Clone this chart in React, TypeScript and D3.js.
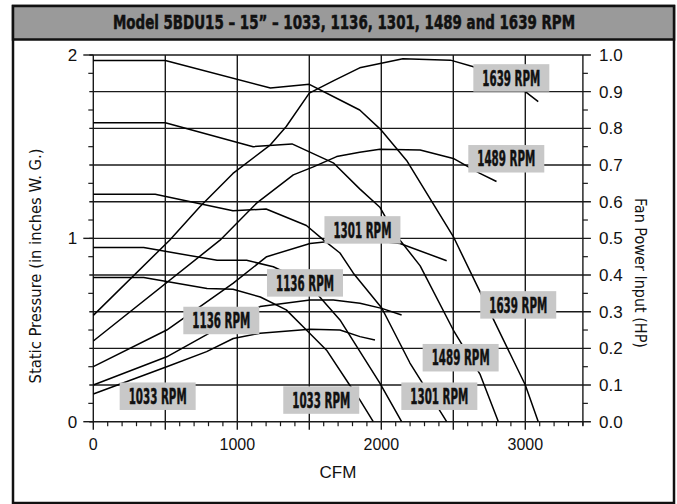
import React from 'react';
import * as d3 from 'd3';

// ---------- data ----------
const pressure1639Cfm = [0, 500, 1230, 1500, 1700, 1850, 2000, 2180, 2500, 2660, 3000, 3090];
const pressure1639 = [1.97, 1.97, 1.82, 1.84, 1.76, 1.70, 1.59, 1.42, 1.01, 0.75, 0.20, 0];

const pressure1489Cfm = [0, 500, 1110, 1380, 1670, 1850, 1990, 2090, 2270, 2500, 2685, 2813];
const pressure1489 = [1.63, 1.63, 1.50, 1.515, 1.41, 1.27, 1.17, 1.03, 0.85, 0.50, 0.26, 0];

const pressure1301Cfm = [0, 430, 970, 1200, 1480, 1600, 1713, 1806, 2003, 2199, 2454];
const pressure1301 = [1.24, 1.24, 1.15, 1.16, 1.07, 0.99, 0.92, 0.81, 0.62, 0.32, 0];

const pressure1136Cfm = [0, 350, 860, 1065, 1250, 1400, 1550, 1713, 1990, 2141];
const pressure1136 = [0.95, 0.95, 0.88, 0.88, 0.845, 0.79, 0.70, 0.555, 0.21, 0];

const pressure1033Cfm = [0, 350, 790, 970, 1160, 1340, 1480, 1620, 1780, 1850, 1944];
const pressure1033 = [0.786, 0.786, 0.727, 0.722, 0.68, 0.61, 0.50, 0.39, 0.20, 0.12, 0];

const power1639Cfm = [0, 530, 740, 970, 1230, 1340, 1500, 1670, 1850, 2150, 2480, 2640, 3000, 3090];
const power1639 = [0.29, 0.495, 0.586, 0.677, 0.755, 0.805, 0.896, 0.93, 0.965, 0.99, 0.986, 0.968, 0.90, 0.873];

const power1489Cfm = [0, 880, 1134, 1389, 1528, 1690, 1850, 1990, 2270, 2500, 2685, 2800];
const power1489 = [0.22, 0.495, 0.596, 0.673, 0.695, 0.723, 0.735, 0.743, 0.741, 0.718, 0.677, 0.655];

const power1301Cfm = [0, 510, 970, 1204, 1505, 1620, 1800, 2130, 2454];
const power1301 = [0.15, 0.25, 0.377, 0.45, 0.486, 0.491, 0.50, 0.486, 0.439];

const power1136Cfm = [0, 510, 800, 1158, 1505, 1667, 1852, 2003, 2141];
const power1136 = [0.10, 0.177, 0.24, 0.314, 0.332, 0.332, 0.323, 0.309, 0.291];

const power1033Cfm = [0, 510, 787, 972, 1158, 1505, 1713, 1852, 1956];
const power1033 = [0.0755, 0.15, 0.191, 0.227, 0.241, 0.252, 0.25, 0.232, 0.223];

const labelText = ['1639 RPM', '1489 RPM', '1301 RPM', '1136 RPM', '1136 RPM', '1033 RPM', '1033 RPM', '1639 RPM', '1489 RPM', '1301 RPM'];
const labelCfm = [2903, 2868, 1869, 1470, 889, 447, 1583, 2951, 2551, 2403];
const labelPressure = [1.875, 1.434, 1.046, 0.757, 0.552, 0.139, 0.118, 0.637, 0.349, 0.139];

const xTickLabels = [0, 1000, 2000, 3000];
const leftTickLabels = [0, 1, 2];
const rightTickLabels = [0, 0.1, 0.2, 0.3, 0.4, 0.5, 0.6, 0.7, 0.8, 0.9, 1.0];

const titleText = 'Model 5BDU15 \u2013 15\u201D \u2013 1033, 1136, 1301, 1489 and 1639 RPM';

// ---------- layout ----------
const W = 677, H = 504;
const x = d3.scaleLinear().domain([0, 3400]).range([93.3, 582.9]);
const yP = d3.scaleLinear().domain([0, 2]).range([421.7, 55]);
const yW = d3.scaleLinear().domain([0, 1]).range([421.7, 55]);

const condBold = '"DejaVu Sans Condensed", "Liberation Sans Narrow", "DejaVu Sans", sans-serif';
const narrow = '"Liberation Sans Narrow", "DejaVu Sans Condensed", "Liberation Sans", sans-serif';
const sans = '"Liberation Sans", Arial, Helvetica, sans-serif';

const pLine = d3.line<[number, number]>().x(d => x(d[0])).y(d => yP(d[1])).curve(d3.curveLinear);
const wLine = d3.line<[number, number]>().x(d => x(d[0])).y(d => yW(d[1])).curve(d3.curveLinear);
const zip = (a: number[], b: number[]) => a.map((v, i) => [v, b[i]] as [number, number]);

const pressureCurves = [
  zip(pressure1639Cfm, pressure1639),
  zip(pressure1489Cfm, pressure1489),
  zip(pressure1301Cfm, pressure1301),
  zip(pressure1136Cfm, pressure1136),
  zip(pressure1033Cfm, pressure1033),
];
const powerCurves = [
  zip(power1639Cfm, power1639),
  zip(power1489Cfm, power1489),
  zip(power1301Cfm, power1301),
  zip(power1136Cfm, power1136),
  zip(power1033Cfm, power1033),
];

export default function App() {
  const x0 = x(0), x1 = x(3400), y0 = yP(0), y1 = yP(2);
  const gridStroke = '#1a1a1a';
  const minorX = d3.range(0, 3401, 100).filter(v => v % 500 !== 0);
  const majorX = d3.range(0, 3001, 500);
  const hGrid = d3.range(0, 2.001, 0.2);
  const leftMinor = d3.range(0.1, 2, 0.2);
  const rightMinor = d3.range(0.05, 1, 0.1);
  const boxW = 76, boxH = 27.5;
  const titleScale = 0.75;

  return (
    <svg width={W} height={H} style={{ position: 'absolute', left: 0, top: 0, background: '#fff' }}>
      {/* frame */}
      <rect x={13} y={6} width={661} height={497} fill="#fff" stroke="#111" strokeWidth={2.5} />
      <rect x={13} y={6} width={661} height={33.5} fill="#9a9a9a" stroke="#111" strokeWidth={2.5} />
      <text transform={`translate(344,29) scale(${titleScale},1)`} x={0} y={0} textAnchor="middle"
        fontFamily={condBold} fontWeight="bold" fontSize={19}
        textLength={462 / titleScale} lengthAdjust="spacingAndGlyphs" fill="#111" stroke="#111" strokeWidth={0.5}>{titleText}</text>

      {/* horizontal grid */}
      {hGrid.map((v, i) => (
        <line key={'hg' + i} x1={x0 - 4} x2={x1 + 8} y1={yP(v)} y2={yP(v)} stroke={gridStroke} strokeWidth={1.4} />
      ))}
      {/* vertical grid */}
      {majorX.map(v => (
        <line key={'vg' + v} x1={x(v)} x2={x(v)} y1={y1} y2={y0 + 8} stroke={gridStroke} strokeWidth={1.4} />
      ))}
      <line x1={x1} x2={x1} y1={y1} y2={y0 + 4} stroke={gridStroke} strokeWidth={1.4} />
      {minorX.map(v => (
        <line key={'mx' + v} x1={x(v)} x2={x(v)} y1={y0} y2={y0 + 4.5} stroke={gridStroke} strokeWidth={1.2} />
      ))}
      {leftMinor.map((v, i) => (
        <line key={'lm' + i} x1={x0 - 5} x2={x0} y1={yP(v)} y2={yP(v)} stroke={gridStroke} strokeWidth={1.2} />
      ))}
      {leftTickLabels.map(v => (
        <line key={'lM' + v} x1={x0 - 10} x2={x0} y1={yP(v)} y2={yP(v)} stroke={gridStroke} strokeWidth={1.4} />
      ))}
      {rightMinor.map((v, i) => (
        <line key={'rm' + i} x1={x1} x2={x1 + 5} y1={yW(v)} y2={yW(v)} stroke={gridStroke} strokeWidth={1.2} />
      ))}

      {/* curves */}
      {pressureCurves.map((c, i) => (
        <path key={'pc' + i} d={pLine(c) || ''} fill="none" stroke="#000" strokeWidth={1.5} strokeLinejoin="round" />
      ))}
      {powerCurves.map((c, i) => (
        <path key={'wc' + i} d={wLine(c) || ''} fill="none" stroke="#000" strokeWidth={1.5} strokeLinejoin="round" />
      ))}

      {/* labels */}
      {labelText.map((t, i) => {
        const cx = x(labelCfm[i]), cy = yP(labelPressure[i]);
        return (
          <g key={'lb' + i}>
            <rect x={cx - boxW / 2} y={cy - boxH / 2} width={boxW} height={boxH} fill="#c8c8c8" />
            <text x={cx} y={cy + 7.6} textAnchor="middle" fontFamily={condBold} fontWeight="bold" fontSize={21}
              textLength={58} lengthAdjust="spacingAndGlyphs" fill="#111" stroke="#111" strokeWidth={0.5}>{t}</text>
          </g>
        );
      })}

      {/* tick labels */}
      {leftTickLabels.map(v => (
        <text key={'lt' + v} x={72.5} y={yP(v) + 6} textAnchor="middle" fontFamily={sans} fontSize={17} fill="#111">{v}</text>
      ))}
      {rightTickLabels.map(v => (
        <text key={'rt' + v} x={599} y={yW(v) + 6} textAnchor="start" fontFamily={sans} fontSize={17} fill="#111">{v.toFixed(1)}</text>
      ))}
      {xTickLabels.map(v => (
        <text key={'xt' + v} x={x(v)} y={450} textAnchor="middle" fontFamily={sans} fontSize={16} fill="#111">{v}</text>
      ))}
      <text x={338} y={478} textAnchor="middle" fontFamily={sans} fontSize={17} fill="#111">CFM</text>

      {/* axis titles */}
      <text transform="translate(41,266) rotate(-90)" textAnchor="middle" fontFamily={narrow} fontSize={16}
        textLength={235} lengthAdjust="spacingAndGlyphs" fill="#111">Static Pressure (in inches W. G.)</text>
      <text transform="translate(635,273) rotate(90)" textAnchor="middle" fontFamily={narrow} fontSize={16}
        textLength={150} lengthAdjust="spacingAndGlyphs" fill="#111">Fan Power Input (HP)</text>
    </svg>
  );
}
